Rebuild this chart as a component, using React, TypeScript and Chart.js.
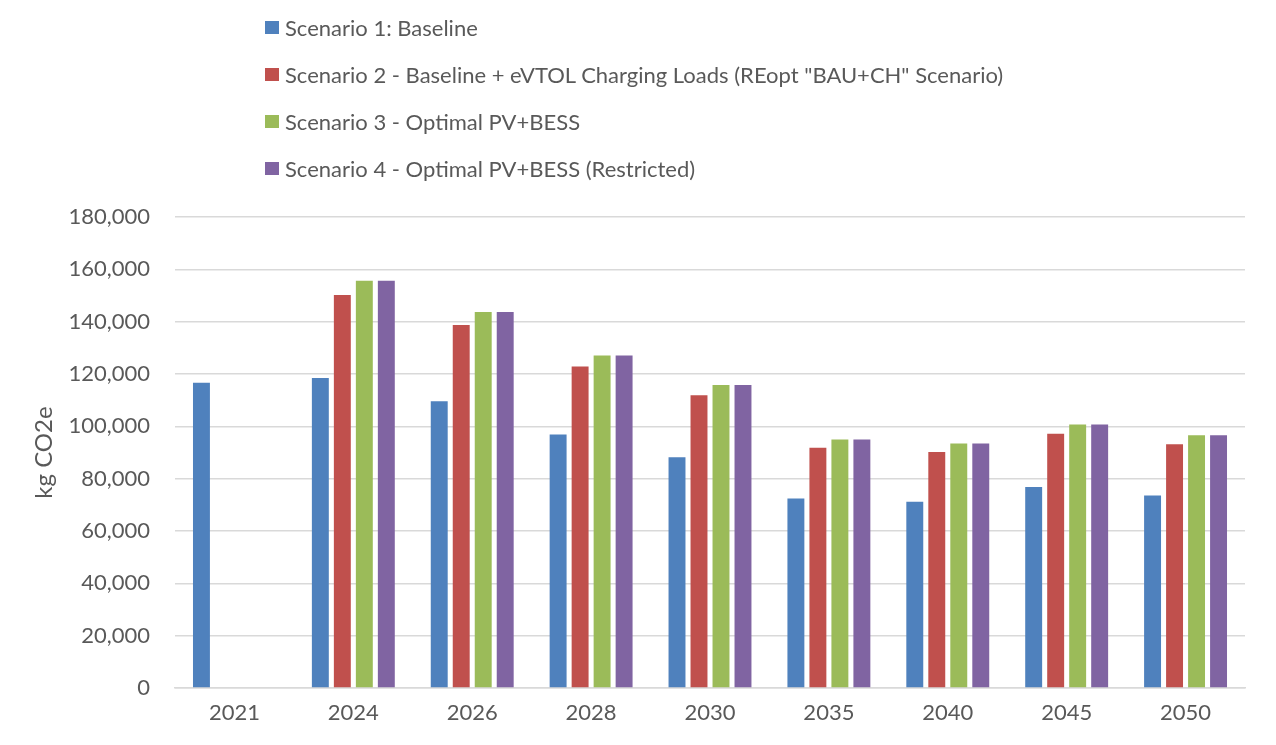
import React, { useEffect, useRef } from "react";
import { Chart, registerables } from "chart.js";

Chart.register(...registerables);

const years = ["2021", "2024", "2026", "2028", "2030", "2035", "2040", "2045", "2050"];
const scenario1 = [116700, 118500, 109600, 96900, 88200, 72400, 71200, 76800, 73600];
const scenario2 = [null, 150200, 138700, 122900, 111900, 91800, 90200, 97200, 93200];
const scenario3 = [null, 155600, 143700, 127100, 115800, 95000, 93400, 100700, 96600];
const scenario4 = [null, 155600, 143700, 127100, 115800, 95000, 93400, 100700, 96600];
const seriesNames = [
  "Scenario 1: Baseline",
  'Scenario 2 - Baseline + eVTOL Charging Loads (REopt "BAU+CH" Scenario)',
  "Scenario 3 - Optimal PV+BESS",
  "Scenario 4 - Optimal PV+BESS (Restricted)",
];
const colors = ["#4F81BD", "#C0504D", "#9BBB59", "#8064A2"];
const yTitle = "kg CO2e";

const FONT = "Lato, 'Open Sans', sans-serif";
const TEXT = "#595959";

export default function App() {
  const ref = useRef<HTMLCanvasElement | null>(null);

  useEffect(() => {
    if (!ref.current) return;
    const all = [scenario1, scenario2, scenario3, scenario4];
    const chart = new Chart(ref.current, {
      type: "bar",
      data: {
        labels: years,
        datasets: all.map((d, i) => ({
          label: seriesNames[i],
          data: d,
          backgroundColor: colors[i],
          borderWidth: 0,
          categoryPercentage: 0.74,
          barPercentage: 0.77,
        })),
      },
      options: {
        animation: false,
        responsive: false,
        maintainAspectRatio: false,
        layout: { padding: { top: 217, right: 31, left: 0, bottom: 0 } },
        plugins: {
          legend: { display: false },
          tooltip: { enabled: false },
        },
        scales: {
          x: {
            grid: { display: false, drawTicks: false },
            border: { display: true, color: "#d9d9d9", width: 1.5 },
            ticks: { color: TEXT, font: { family: FONT, size: 22 }, padding: 12 },
            afterFit: (s: any) => {
              s.height = 57;
            },
          },
          y: {
            min: 0,
            max: 180000,
            grid: { color: "#d9d9d9", lineWidth: 1.5, drawTicks: false },
            border: { display: false },
            ticks: {
              stepSize: 20000,
              color: TEXT,
              font: { family: FONT, size: 22 },
              padding: 25,
              callback: (v: any) => Number(v).toLocaleString("en-US"),
            },
            title: {
              display: true,
              text: yTitle,
              color: TEXT,
              font: { family: FONT, size: 24, weight: "normal" },
              padding: { top: 30, bottom: 0 },
            },
            afterFit: (s: any) => {
              s.width = 175;
            },
          },
        },
      },
    });
    return () => chart.destroy();
  }, []);

  return (
    <div style={{ position: "fixed", left: 0, top: 0, width: 1276, height: 745, background: "#fff" }}>
      <canvas ref={ref} width={1276} height={745} style={{ position: "absolute", left: 0, top: 0 }} />
      <div style={{ position: "absolute", left: 265, top: 0 }}>
        {seriesNames.map((n, i) => (
          <div
            key={n}
            style={{
              position: "absolute",
              left: 0,
              top: 27 + i * 47 - 15,
              height: 30,
              display: "flex",
              alignItems: "center",
              whiteSpace: "nowrap",
              fontFamily: FONT,
              fontSize: 22,
              color: TEXT,
            }}
          >
            <span style={{ display: "inline-block", width: 14, height: 13, background: colors[i], marginRight: 6 }} />
            <span>{n}</span>
          </div>
        ))}
      </div>
    </div>
  );
}
